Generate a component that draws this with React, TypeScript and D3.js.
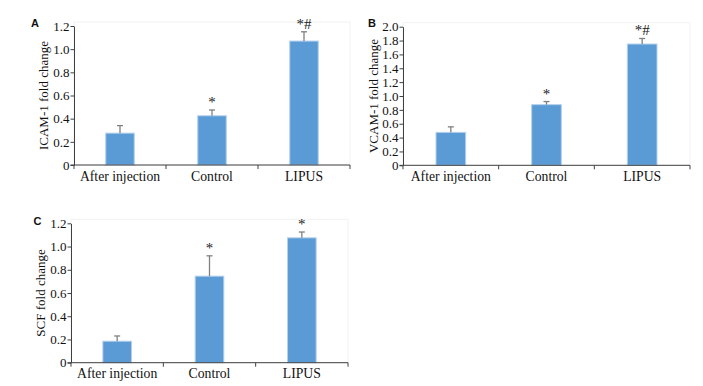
import React, { useEffect, useRef } from 'react';
import * as d3 from 'd3';

const categories = ['After injection', 'Control', 'LIPUS'];

const icamValues = [0.275, 0.425, 1.07];
const icamErrors = [0.065, 0.05, 0.08];
const icamMarks = ['', '*', '*#'];

const vcamValues = [0.475, 0.875, 1.75];
const vcamErrors = [0.08, 0.045, 0.08];
const vcamMarks = ['', '*', '*#'];

const scfValues = [0.185, 0.745, 1.075];
const scfErrors = [0.045, 0.175, 0.05];
const scfMarks = ['', '*', '*'];

const icamTicks = [0, 0.2, 0.4, 0.6, 0.8, 1.0, 1.2];
const vcamTicks = [0, 0.2, 0.4, 0.6, 0.8, 1.0, 1.2, 1.4, 1.6, 1.8, 2.0];
const scfTicks = [0, 0.2, 0.4, 0.6, 0.8, 1.0, 1.2];

const panels = [
  { letter: 'A', title: 'ICAM-1 fold change', values: icamValues, errors: icamErrors, marks: icamMarks, ticks: icamTicks,
    x0: 74, x1: 350, y0: 165, y1: 26, labelX: 43, letterX: 35, letterY: 26.7 },
  { letter: 'B', title: 'VCAM-1 fold change', values: vcamValues, errors: vcamErrors, marks: vcamMarks, ticks: vcamTicks,
    x0: 403, x1: 690, y0: 165.3, y1: 26.7, labelX: 373, letterX: 372, letterY: 26.7 },
  { letter: 'C', title: 'SCF fold change', values: scfValues, errors: scfErrors, marks: scfMarks, ticks: scfTicks,
    x0: 71, x1: 348, y0: 362.7, y1: 223.3, labelX: 40.5, letterX: 37.5, letterY: 225 },
];

const serif = 'Liberation Serif';

const App = () => {
  const ref = useRef<SVGSVGElement>(null);

  useEffect(() => {
    const svg = d3.select(ref.current);
    svg.selectAll('*').remove();

    panels.forEach(p => {
      const g = svg.append('g').attr('font-family', serif);
      const y = d3.scaleLinear()
        .domain([0, p.ticks[p.ticks.length - 1]])
        .range([p.y0, p.y1]);
      const x = d3.scaleBand()
        .domain(categories)
        .range([p.x0, p.x1])
        .padding(0);
      const bw = x.bandwidth() * 0.31;

      // faint plot frame
      g.append('rect')
        .attr('x', p.x0).attr('y', p.y1 - 4)
        .attr('width', p.x1 - p.x0).attr('height', p.y0 - p.y1 + 4)
        .attr('fill', 'none').attr('stroke', '#f2f2f2');

      // bars
      g.selectAll('.bar')
        .data(p.values)
        .enter().append('rect')
        .attr('x', (d, i) => x(categories[i])! + (x.bandwidth() - bw) / 2)
        .attr('y', d => y(d))
        .attr('width', bw)
        .attr('height', d => p.y0 - y(d))
        .attr('fill', '#5b9bd5')
        .attr('stroke', '#b4d0ec')
        .attr('stroke-width', 1);

      // error bars
      const err = g.selectAll('.err')
        .data(p.values)
        .enter().append('g');
      err.append('line')
        .attr('x1', (d, i) => x(categories[i])! + x.bandwidth() / 2)
        .attr('x2', (d, i) => x(categories[i])! + x.bandwidth() / 2)
        .attr('y1', d => y(d))
        .attr('y2', (d, i) => y(d + p.errors[i]))
        .attr('stroke', '#808080').attr('stroke-width', 1.3);
      err.append('line')
        .attr('x1', (d, i) => x(categories[i])! + x.bandwidth() / 2 - 3)
        .attr('x2', (d, i) => x(categories[i])! + x.bandwidth() / 2 + 3)
        .attr('y1', (d, i) => y(d + p.errors[i]))
        .attr('y2', (d, i) => y(d + p.errors[i]))
        .attr('stroke', '#808080').attr('stroke-width', 1.3);

      // significance marks
      g.selectAll('.mark')
        .data(p.values)
        .enter().append('text')
        .attr('x', (d, i) => x(categories[i])! + x.bandwidth() / 2)
        .attr('y', (d, i) => y(d + p.errors[i]) - 3)
        .attr('text-anchor', 'middle')
        .attr('font-family', serif)
        .attr('font-size', 15)
        .attr('fill', '#222')
        .text((d, i) => p.marks[i]);

      // y axis
      const yAxis = g.append('g')
        .attr('transform', `translate(${p.x0},0)`)
        .call(d3.axisLeft(y).tickValues(p.ticks).tickSize(3.5).tickSizeOuter(0)
          .tickFormat(d => (+d === 0 ? '0' : d3.format('.1f')(+d))));
      yAxis.attr('font-family', serif).attr('font-size', 13);
      yAxis.select('.domain').attr('stroke', '#404040');
      yAxis.selectAll('.tick line').attr('stroke', '#404040');
      yAxis.selectAll('.tick text')
        .attr('x', -4.5)
        .attr('fill', '#111');

      // x axis
      g.append('line')
        .attr('x1', p.x0 - 3.5).attr('x2', p.x1)
        .attr('y1', p.y0).attr('y2', p.y0)
        .attr('stroke', '#404040');
      const bounds = categories.map(c => x(c)!).concat([p.x1]);
      g.selectAll('.xt')
        .data(bounds)
        .enter().append('line')
        .attr('x1', d => d).attr('x2', d => d)
        .attr('y1', p.y0).attr('y2', p.y0 + 4)
        .attr('stroke', '#404040');
      g.selectAll('.xl')
        .data(categories)
        .enter().append('text')
        .attr('x', d => x(d)! + x.bandwidth() / 2)
        .attr('y', p.y0 + 15.5)
        .attr('text-anchor', 'middle')
        .attr('font-family', serif)
        .attr('font-size', 13.7)
        .attr('fill', '#111')
        .text(d => d);

      // axis title
      g.append('text')
        .attr('transform', `translate(${p.labelX},${(p.y0 + p.y1) / 2}) rotate(-90)`)
        .attr('text-anchor', 'middle')
        .attr('dy', '0.35em')
        .attr('font-family', serif)
        .attr('font-size', 13)
        .attr('fill', '#111')
        .text(p.title);

      // panel letter
      g.append('text')
        .attr('x', p.letterX).attr('y', p.letterY)
        .attr('text-anchor', 'middle')
        .attr('font-family', 'Liberation Sans')
        .attr('font-weight', 'bold')
        .attr('font-size', 11)
        .attr('fill', '#111')
        .text(p.letter);
    });
  }, []);

  return (
    <svg ref={ref} width={703} height={386}
      style={{ position: 'absolute', left: 0, top: 0, background: '#fff' }} />
  );
};

export default App;
